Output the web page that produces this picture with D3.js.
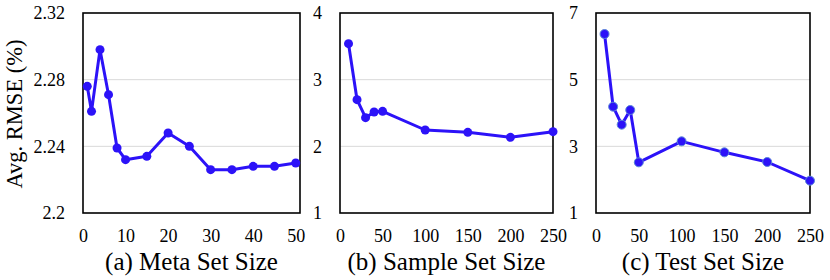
<!DOCTYPE html>
<html>
<head>
<meta charset="utf-8">
<script src="https://cdn.jsdelivr.net/npm/d3@7"></script>
<style>
  svg, svg text { font-family: "Times New Roman" !important; }
</style>
</head>
<body style="margin:0">
<svg id="fig" width="830" height="280" font-family="Times New Roman"></svg>
<script>
/* (a) meta set size */
var META_SIZES = [1, 2, 4, 6, 8, 10, 15, 20, 25, 30, 35, 40, 45, 50];
var META_RMSE = [2.276, 2.261, 2.298, 2.271, 2.239, 2.232, 2.234, 2.248, 2.240, 2.226, 2.226, 2.228, 2.228, 2.230];

/* (b) sample set size */
var SAMPLE_SIZES = [10, 20, 30, 40, 50, 100, 150, 200, 250];
var SAMPLE_RMSE = [3.54, 2.70, 2.43, 2.515, 2.525, 2.245, 2.21, 2.135, 2.22];

/* (c) test set size */
var TEST_SIZES = [10, 20, 30, 40, 50, 100, 150, 200, 250];
var TEST_RMSE = [6.37, 4.19, 3.65, 4.09, 2.52, 3.15, 2.82, 2.53, 1.97];

var META_Y_TICKS = [2.2, 2.24, 2.28, 2.32];
var SAMPLE_Y_TICKS = [1, 2, 3, 4];
var TEST_Y_TICKS = [1, 3, 5, 7];
var META_X_TICKS = [0, 10, 20, 30, 40, 50];
var SIZE_X_TICKS = [0, 50, 100, 150, 200, 250];

var TITLES = ["(a) Meta Set Size", "(b) Sample Set Size", "(c) Test Set Size"];

var LINE_COLOR = "#2c12f8";
var SERIF = "Times New Roman";

var panels = [
    {left: 83, right: 300, xs: META_SIZES, ys: META_RMSE, xDomain: [0, 51], yDomain: [2.2, 2.32],
     xTicks: META_X_TICKS, yTicks: META_Y_TICKS, fmt: function(d){ return d === 2.2 ? "2.2" : d3.format(".2f")(d); }, title: TITLES[0], markerStroke: "none"},
    {left: 340, right: 553, xs: SAMPLE_SIZES, ys: SAMPLE_RMSE, xDomain: [0, 250], yDomain: [1, 4],
     xTicks: SIZE_X_TICKS, yTicks: SAMPLE_Y_TICKS, fmt: d3.format("d"), title: TITLES[1], markerStroke: "none"},
    {left: 596, right: 810, xs: TEST_SIZES, ys: TEST_RMSE, xDomain: [0, 250], yDomain: [1, 7],
     xTicks: SIZE_X_TICKS, yTicks: TEST_Y_TICKS, fmt: d3.format("d"), title: TITLES[2], markerStroke: "#5a86d8"}
];

var TOP = 13, BOTTOM = 213;
var svg = d3.select("#fig");

panels.forEach(function(p){
    var x = d3.scaleLinear().domain(p.xDomain).range([p.left, p.right]);
    var y = d3.scaleLinear().domain(p.yDomain).range([BOTTOM, TOP]);
    var g = svg.append("g");

    /* gridlines (inner ticks only) */
    g.selectAll(".grid")
        .data(p.yTicks.slice(1, -1)).enter()
        .append("line")
        .attr("x1", p.left).attr("x2", p.right)
        .attr("y1", function(d){ return y(d); })
        .attr("y2", function(d){ return y(d); })
        .attr("stroke", "#d9d9d9").attr("stroke-width", 1);

    /* y axis labels */
    var yAxis = d3.axisLeft(y).tickValues(p.yTicks).tickSize(0).tickPadding(18).tickFormat(p.fmt);
    var ya = g.append("g")
        .attr("transform", "translate(" + p.left + ",0)")
        .call(yAxis)
        .attr("font-family", SERIF)
        .attr("font-size", 18);
    ya.select(".domain").remove();

    /* x axis labels */
    var xAxis = d3.axisBottom(x).tickValues(p.xTicks).tickSize(0).tickPadding(16).tickFormat(d3.format("d"));
    var xa = g.append("g")
        .attr("transform", "translate(0," + BOTTOM + ")")
        .call(xAxis)
        .attr("font-family", SERIF)
        .attr("font-size", 18);
    xa.select(".domain").remove();

    /* frame */
    g.append("rect")
        .attr("x", p.left).attr("y", TOP)
        .attr("width", p.right - p.left).attr("height", BOTTOM - TOP)
        .attr("fill", "none").attr("stroke", "#000").attr("stroke-width", 1.6);

    var pts = p.xs.map(function(v, i){ return [v, p.ys[i]]; });
    var line = d3.line()
        .x(function(d){ return x(d[0]); })
        .y(function(d){ return y(d[1]); });

    g.append("path")
        .attr("d", line(pts))
        .attr("fill", "none")
        .attr("stroke", LINE_COLOR)
        .attr("stroke-width", 3)
        .attr("stroke-linejoin", "round");

    g.selectAll(".pt")
        .data(pts).enter()
        .append("circle")
        .attr("cx", function(d){ return x(d[0]); })
        .attr("cy", function(d){ return y(d[1]); })
        .attr("r", 4.5)
        .attr("fill", LINE_COLOR)
        .attr("stroke", p.markerStroke)
        .attr("stroke-width", 1);

    g.append("text")
        .attr("x", (p.left + p.right) / 2)
        .attr("y", 270)
        .attr("text-anchor", "middle")
        .attr("font-family", SERIF)
        .attr("font-size", 25)
        .text(p.title);
});

svg.append("text")
    .attr("transform", "translate(22,114) rotate(-90)")
    .attr("text-anchor", "middle")
    .attr("font-family", SERIF)
    .attr("font-size", 22.5)
    .text("Avg. RMSE (%)");
</script>
</body>
</html>
